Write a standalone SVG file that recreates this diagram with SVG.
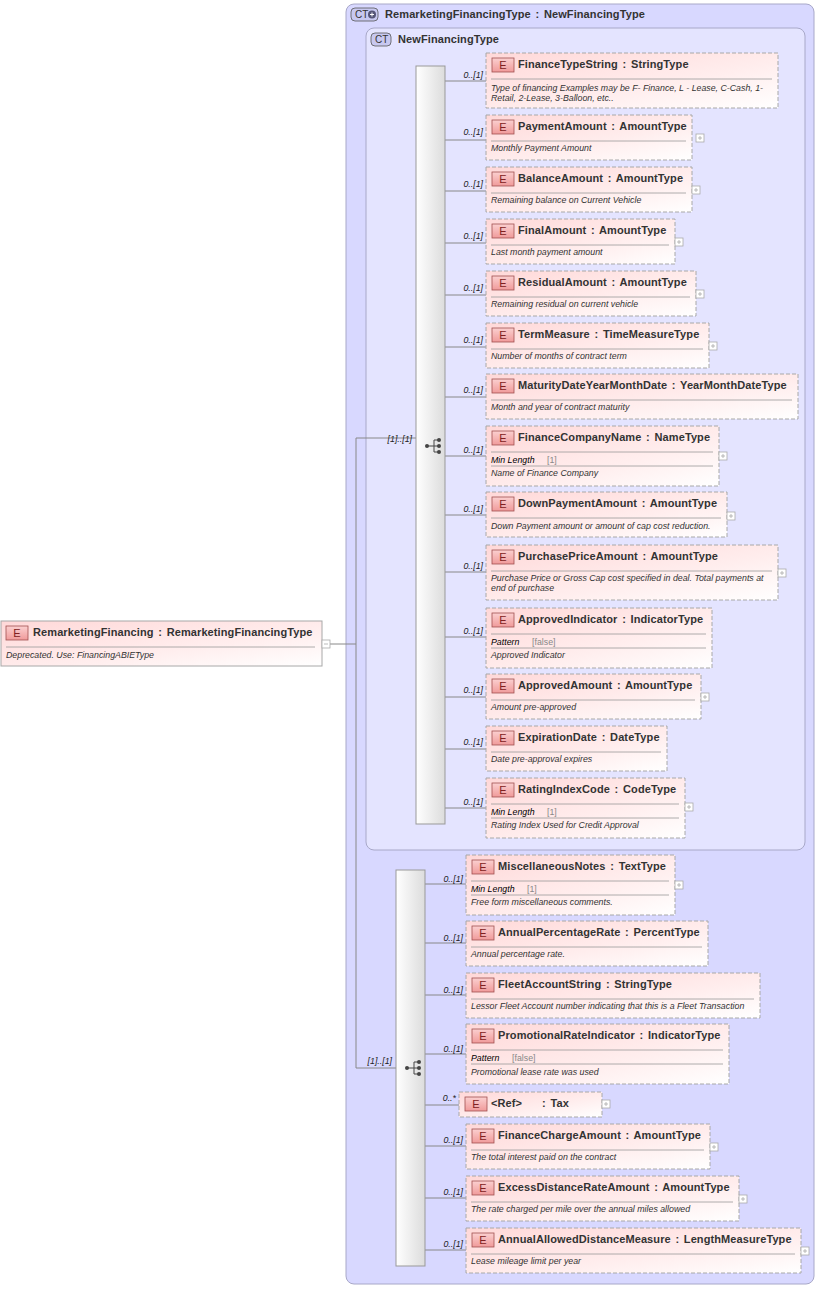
<svg xmlns="http://www.w3.org/2000/svg" width="819" height="1289" viewBox="0 0 819 1289">
<defs>
<linearGradient id="eg" x1="0" y1="0" x2="1" y2="1"><stop offset="0" stop-color="#ffd8d8"/><stop offset="0.6" stop-color="#ffeeee"/><stop offset="1" stop-color="#ffffff"/></linearGradient>
<linearGradient id="bg" x1="0" y1="0" x2="1" y2="0"><stop offset="0" stop-color="#ffffff"/><stop offset="1" stop-color="#dcdcdc"/></linearGradient>
<linearGradient id="badge" x1="0" y1="0" x2="0" y2="1"><stop offset="0" stop-color="#fbd0d0"/><stop offset="1" stop-color="#f09a9a"/></linearGradient>
<g id="seqicon"><circle cx="-7" cy="0" r="2" fill="#444"/><line x1="-7" y1="0" x2="0" y2="0" stroke="#444"/><line x1="0" y1="-6" x2="0" y2="6" stroke="#444"/><line x1="0" y1="-6" x2="5" y2="-6" stroke="#444"/><line x1="0" y1="0" x2="5" y2="0" stroke="#444"/><line x1="0" y1="6" x2="5" y2="6" stroke="#444"/><circle cx="5" cy="-6" r="2" fill="#444"/><circle cx="5" cy="0" r="2" fill="#444"/><circle cx="5" cy="6" r="2" fill="#444"/></g>
</defs>
<style>
.el{fill:url(#eg);stroke:#a8a8a8;stroke-dasharray:4 2}
.sol{fill:url(#eg);stroke:#a8a8a8}
.bd{fill:url(#badge);stroke:#a05050;stroke-width:0.8}
.bt{font:11px "Liberation Sans",Arial,sans-serif;fill:#802020;text-anchor:middle}
.t{font:bold 11px "Liberation Sans",Arial,sans-serif;fill:#333;letter-spacing:0.1px;word-spacing:1.5px}
.d{font:italic 8.8px "Liberation Sans",Arial,sans-serif;fill:#333}
.k{font:italic 8.8px "Liberation Sans",Arial,sans-serif;fill:#000}
.v{font:8.8px "Liberation Sans",Arial,sans-serif;fill:#888}
.dv{stroke:#999;stroke-width:0.8}
.pl{fill:#fff;stroke:#aaa;stroke-width:0.8}
.pc{stroke:#aaa;stroke-width:0.8}
.c{stroke:#888;fill:none}
.m{font:italic 8.8px "Liberation Sans",Arial,sans-serif;fill:#222;text-anchor:end}
.ct{fill:#d8d8ff;stroke:#a8a8c8}
.cb{fill:#c8c8f0;stroke:#555;stroke-width:0.8}
.cbt{font:10px "Liberation Sans",Arial,sans-serif;fill:#333}
.bar{fill:url(#bg);stroke:#999}
</style>
<rect width="819" height="1289" fill="#fff"/>
<g id="outer-ct">
<rect x="346" y="4" width="468" height="1280" rx="8" class="ct" fill="#dedeff"/>
<rect x="351" y="8" width="27" height="13" rx="4" class="cb"/><text x="355" y="18" class="cbt">CT</text><circle cx="372" cy="14.5" r="4" fill="#557" /><path d="M370 14.5h4M372 12.5v4" stroke="#fff"/>
<text x="385" y="18" class="t">RemarketingFinancingType : NewFinancingType</text>
</g>
<g id="inner-ct">
<rect x="366" y="28" width="439" height="822" rx="8" fill="#e4e4ff" stroke="#a8a8c8"/>
<rect x="371" y="33" width="20" height="13" rx="4" class="cb"/><text x="375" y="43" class="cbt">CT</text>
<text x="398" y="43" class="t">NewFinancingType</text>
</g>
<g id="connectors">
<path class="c" d="M330 644H356M356 438V1068M356 438H416M356 1068H396"/>
<text x="412" y="442" class="m">[1]..[1]</text>
<text x="392" y="1064" class="m">[1]..[1]</text>
<path class="c" d="M445 81H486M445 140H486M445 191H486M445 243H486M445 295H486M445 347H486M445 397H486M445 456H486M445 515H486M445 572H486M445 637H486M445 697H486M445 749H486M445 808H486"/>
<text x="483" y="78" class="m">0..[1]</text><text x="483" y="135" class="m">0..[1]</text><text x="483" y="187" class="m">0..[1]</text><text x="483" y="239" class="m">0..[1]</text><text x="483" y="291" class="m">0..[1]</text><text x="483" y="343" class="m">0..[1]</text><text x="483" y="393" class="m">0..[1]</text><text x="483" y="453" class="m">0..[1]</text><text x="483" y="512" class="m">0..[1]</text><text x="483" y="569" class="m">0..[1]</text><text x="483" y="634" class="m">0..[1]</text><text x="483" y="693" class="m">0..[1]</text><text x="483" y="745" class="m">0..[1]</text><text x="483" y="805" class="m">0..[1]</text>
<path class="c" d="M425 884H466M425 943H466M425 995H466M425 1054H466M425 1105H459M425 1146H466M425 1198H466M425 1250H466"/>
<text x="463" y="882" class="m">0..[1]</text><text x="463" y="941" class="m">0..[1]</text><text x="463" y="993" class="m">0..[1]</text><text x="463" y="1052" class="m">0..[1]</text><text x="456" y="1101" class="m">0..*</text><text x="463" y="1143" class="m">0..[1]</text><text x="463" y="1195" class="m">0..[1]</text><text x="463" y="1247" class="m">0..[1]</text>
</g>
<g id="seq1"><rect x="416" y="66" width="29" height="758" class="bar"/><use href="#seqicon" x="434" y="446"/></g>
<g id="seq2"><rect x="396" y="870" width="29" height="396" class="bar"/><use href="#seqicon" x="414" y="1068"/></g>
<g id="RemarketingFinancing"><rect x="1" y="621" width="321" height="45" class="sol"/><rect x="6" y="626" width="22" height="14" class="bd"/><text x="17" y="637" class="bt">E</text><text x="33" y="636" class="t">RemarketingFinancing : RemarketingFinancingType</text><line x1="6" y1="647" x2="315" y2="647" class="dv"/><text x="6" y="658" class="d">Deprecated. Use: FinancingABIEType</text><rect x="322" y="640" width="8" height="8" class="pl"/><path d="M324 644h4" class="pc"/></g>

<g id="FinanceTypeString"><rect x="486" y="53" width="292" height="55" class="el"/><rect x="492" y="58" width="22" height="14" class="bd"/><text x="503" y="69" class="bt">E</text><text x="518" y="68" class="t">FinanceTypeString : StringType</text><line x1="491" y1="79" x2="772" y2="79" class="dv"/><text x="491" y="91" class="d">Type of financing Examples may be F- Finance, L - Lease, C-Cash, 1-</text><text x="491" y="101" class="d">Retail, 2-Lease, 3-Balloon, etc..</text></g>
<g id="PaymentAmount"><rect x="486" y="115" width="206" height="45" class="el"/><rect x="492" y="120" width="22" height="14" class="bd"/><text x="503" y="131" class="bt">E</text><text x="518" y="130" class="t">PaymentAmount : AmountType</text><line x1="491" y1="141" x2="686" y2="141" class="dv"/><text x="491" y="151" class="d">Monthly Payment Amount</text><rect x="696" y="134" width="8" height="8" class="pl"/><path d="M698 138h4M700 136v4" class="pc"/></g>
<g id="BalanceAmount"><rect x="486" y="167" width="206" height="45" class="el"/><rect x="492" y="172" width="22" height="14" class="bd"/><text x="503" y="183" class="bt">E</text><text x="518" y="182" class="t">BalanceAmount : AmountType</text><line x1="491" y1="193" x2="686" y2="193" class="dv"/><text x="491" y="203" class="d">Remaining balance on Current Vehicle</text><rect x="692" y="186" width="8" height="8" class="pl"/><path d="M694 190h4M696 188v4" class="pc"/></g>
<g id="FinalAmount"><rect x="486" y="219" width="189" height="45" class="el"/><rect x="492" y="224" width="22" height="14" class="bd"/><text x="503" y="235" class="bt">E</text><text x="518" y="234" class="t">FinalAmount : AmountType</text><line x1="491" y1="245" x2="669" y2="245" class="dv"/><text x="491" y="255" class="d">Last month payment amount</text><rect x="675" y="238" width="8" height="8" class="pl"/><path d="M677 242h4M679 240v4" class="pc"/></g>
<g id="ResidualAmount"><rect x="486" y="271" width="210" height="45" class="el"/><rect x="492" y="276" width="22" height="14" class="bd"/><text x="503" y="287" class="bt">E</text><text x="518" y="286" class="t">ResidualAmount : AmountType</text><line x1="491" y1="297" x2="690" y2="297" class="dv"/><text x="491" y="307" class="d">Remaining residual on current vehicle</text><rect x="696" y="290" width="8" height="8" class="pl"/><path d="M698 294h4M700 292v4" class="pc"/></g>
<g id="TermMeasure"><rect x="486" y="323" width="223" height="45" class="el"/><rect x="492" y="328" width="22" height="14" class="bd"/><text x="503" y="339" class="bt">E</text><text x="518" y="338" class="t">TermMeasure : TimeMeasureType</text><line x1="491" y1="349" x2="703" y2="349" class="dv"/><text x="491" y="359" class="d">Number of months of contract term</text><rect x="709" y="342" width="8" height="8" class="pl"/><path d="M711 346h4M713 344v4" class="pc"/></g>
<g id="MaturityDateYearMonthDate"><rect x="486" y="374" width="312" height="45" class="el"/><rect x="492" y="379" width="22" height="14" class="bd"/><text x="503" y="390" class="bt">E</text><text x="518" y="389" class="t">MaturityDateYearMonthDate : YearMonthDateType</text><line x1="491" y1="400" x2="792" y2="400" class="dv"/><text x="491" y="410" class="d">Month and year of contract maturity</text></g>
<g id="FinanceCompanyName"><rect x="486" y="426" width="233" height="60" class="el"/><rect x="492" y="431" width="22" height="14" class="bd"/><text x="503" y="442" class="bt">E</text><text x="518" y="441" class="t">FinanceCompanyName : NameType</text><line x1="491" y1="452" x2="713" y2="452" class="dv"/><text x="491" y="463" class="k">Min Length</text><text x="547" y="463" class="v">[1]</text><line x1="491" y1="466" x2="713" y2="466" class="dv"/><text x="491" y="476" class="d">Name of Finance Company</text><rect x="719" y="452" width="8" height="8" class="pl"/><path d="M721 456h4M723 454v4" class="pc"/></g>
<g id="DownPaymentAmount"><rect x="486" y="492" width="241" height="45" class="el"/><rect x="492" y="497" width="22" height="14" class="bd"/><text x="503" y="508" class="bt">E</text><text x="518" y="507" class="t">DownPaymentAmount : AmountType</text><line x1="491" y1="518" x2="721" y2="518" class="dv"/><text x="491" y="529" class="d">Down Payment amount or amount of cap cost reduction.</text><rect x="727" y="512" width="8" height="8" class="pl"/><path d="M729 516h4M731 514v4" class="pc"/></g>
<g id="PurchasePriceAmount"><rect x="486" y="545" width="292" height="55" class="el"/><rect x="492" y="550" width="22" height="14" class="bd"/><text x="503" y="561" class="bt">E</text><text x="518" y="560" class="t">PurchasePriceAmount : AmountType</text><line x1="491" y1="571" x2="772" y2="571" class="dv"/><text x="491" y="581" class="d">Purchase Price or Gross Cap cost specified in deal. Total payments at</text><text x="491" y="591" class="d">end of purchase</text><rect x="778" y="569" width="8" height="8" class="pl"/><path d="M780 573h4M782 571v4" class="pc"/></g>
<g id="ApprovedIndicator"><rect x="486" y="608" width="226" height="60" class="el"/><rect x="492" y="613" width="22" height="14" class="bd"/><text x="503" y="624" class="bt">E</text><text x="518" y="623" class="t">ApprovedIndicator : IndicatorType</text><line x1="491" y1="634" x2="706" y2="634" class="dv"/><text x="491" y="645" class="k">Pattern</text><text x="532" y="645" class="v">[false]</text><line x1="491" y1="648" x2="706" y2="648" class="dv"/><text x="491" y="658" class="d">Approved Indicator</text></g>
<g id="ApprovedAmount"><rect x="486" y="674" width="215" height="45" class="el"/><rect x="492" y="679" width="22" height="14" class="bd"/><text x="503" y="690" class="bt">E</text><text x="518" y="689" class="t">ApprovedAmount : AmountType</text><line x1="491" y1="700" x2="695" y2="700" class="dv"/><text x="491" y="710" class="d">Amount pre-approved</text><rect x="701" y="693" width="8" height="8" class="pl"/><path d="M703 697h4M705 695v4" class="pc"/></g>
<g id="ExpirationDate"><rect x="486" y="726" width="181" height="45" class="el"/><rect x="492" y="731" width="22" height="14" class="bd"/><text x="503" y="742" class="bt">E</text><text x="518" y="741" class="t">ExpirationDate : DateType</text><line x1="491" y1="752" x2="661" y2="752" class="dv"/><text x="491" y="762" class="d">Date pre-approval expires</text></g>
<g id="RatingIndexCode"><rect x="486" y="778" width="199" height="60" class="el"/><rect x="492" y="783" width="22" height="14" class="bd"/><text x="503" y="794" class="bt">E</text><text x="518" y="793" class="t">RatingIndexCode : CodeType</text><line x1="491" y1="804" x2="679" y2="804" class="dv"/><text x="491" y="815" class="k">Min Length</text><text x="547" y="815" class="v">[1]</text><line x1="491" y1="818" x2="679" y2="818" class="dv"/><text x="491" y="828" class="d">Rating Index Used for Credit Approval</text><rect x="685" y="803" width="8" height="8" class="pl"/><path d="M687 807h4M689 805v4" class="pc"/></g>

<g id="MiscellaneousNotes"><rect x="466" y="855" width="209" height="60" class="el"/><rect x="472" y="860" width="22" height="14" class="bd"/><text x="483" y="871" class="bt">E</text><text x="498" y="870" class="t">MiscellaneousNotes : TextType</text><line x1="471" y1="881" x2="669" y2="881" class="dv"/><text x="471" y="892" class="k">Min Length</text><text x="527" y="892" class="v">[1]</text><line x1="471" y1="895" x2="669" y2="895" class="dv"/><text x="471" y="905" class="d">Free form miscellaneous comments.</text><rect x="675" y="881" width="8" height="8" class="pl"/><path d="M677 885h4M679 883v4" class="pc"/></g>
<g id="AnnualPercentageRate"><rect x="466" y="921" width="242" height="45" class="el"/><rect x="472" y="926" width="22" height="14" class="bd"/><text x="483" y="937" class="bt">E</text><text x="498" y="936" class="t">AnnualPercentageRate : PercentType</text><line x1="471" y1="947" x2="702" y2="947" class="dv"/><text x="471" y="957" class="d">Annual percentage rate.</text></g>
<g id="FleetAccountString"><rect x="466" y="973" width="294" height="45" class="el"/><rect x="472" y="978" width="22" height="14" class="bd"/><text x="483" y="989" class="bt">E</text><text x="498" y="988" class="t">FleetAccountString : StringType</text><line x1="471" y1="999" x2="754" y2="999" class="dv"/><text x="471" y="1009" class="d">Lessor Fleet Account number indicating that this is a Fleet Transaction</text></g>
<g id="PromotionalRateIndicator"><rect x="466" y="1024" width="263" height="60" class="el"/><rect x="472" y="1029" width="22" height="14" class="bd"/><text x="483" y="1040" class="bt">E</text><text x="498" y="1039" class="t">PromotionalRateIndicator : IndicatorType</text><line x1="471" y1="1050" x2="723" y2="1050" class="dv"/><text x="471" y="1061" class="k">Pattern</text><text x="512" y="1061" class="v">[false]</text><line x1="471" y1="1064" x2="723" y2="1064" class="dv"/><text x="471" y="1075" class="d">Promotional lease rate was used</text></g>
<g id="Tax"><rect x="459" y="1092" width="143" height="25" class="el"/><rect x="465" y="1097" width="22" height="14" class="bd"/><text x="476" y="1108" class="bt">E</text><text x="491" y="1107" class="t">&lt;Ref&gt;</text><text x="542" y="1107" class="t">: Tax</text><rect x="602" y="1100" width="8" height="8" class="pl"/><path d="M604 1104h4M606 1102v4" class="pc"/></g>
<g id="FinanceChargeAmount"><rect x="466" y="1124" width="244" height="45" class="el"/><rect x="472" y="1129" width="22" height="14" class="bd"/><text x="483" y="1140" class="bt">E</text><text x="498" y="1139" class="t">FinanceChargeAmount : AmountType</text><line x1="471" y1="1150" x2="704" y2="1150" class="dv"/><text x="471" y="1160" class="d">The total interest paid on the contract</text><rect x="710" y="1143" width="8" height="8" class="pl"/><path d="M712 1147h4M714 1145v4" class="pc"/></g>
<g id="ExcessDistanceRateAmount"><rect x="466" y="1176" width="273" height="45" class="el"/><rect x="472" y="1181" width="22" height="14" class="bd"/><text x="483" y="1192" class="bt">E</text><text x="498" y="1191" class="t">ExcessDistanceRateAmount : AmountType</text><line x1="471" y1="1202" x2="733" y2="1202" class="dv"/><text x="471" y="1212" class="d">The rate charged per mile over the annual miles allowed</text><rect x="739" y="1195" width="8" height="8" class="pl"/><path d="M741 1199h4M743 1197v4" class="pc"/></g>
<g id="AnnualAllowedDistanceMeasure"><rect x="466" y="1228" width="335" height="45" class="el"/><rect x="472" y="1233" width="22" height="14" class="bd"/><text x="483" y="1244" class="bt">E</text><text x="498" y="1243" class="t">AnnualAllowedDistanceMeasure : LengthMeasureType</text><line x1="471" y1="1254" x2="795" y2="1254" class="dv"/><text x="471" y="1264" class="d">Lease mileage limit per year</text><rect x="801" y="1247" width="8" height="8" class="pl"/><path d="M803 1251h4M805 1249v4" class="pc"/></g>
</svg>
